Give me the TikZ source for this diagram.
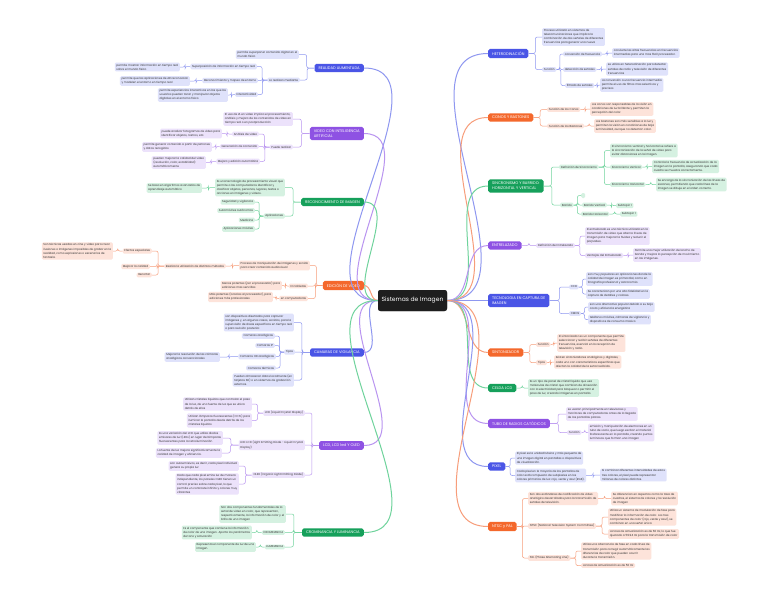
\documentclass[tikz,border=0pt]{standalone}
\usepackage{fontspec}
\setmainfont{Poppins}
\usetikzlibrary{calc}
\definecolor{rootc}{HTML}{1E1E1E}
\definecolor{bluM}{HTML}{4A55E6}
\definecolor{bluL}{HTML}{DFE2FB}
\definecolor{bluE}{HTML}{8E97F0}
\definecolor{purM}{HTML}{8E52E3}
\definecolor{purL}{HTML}{ECE2FB}
\definecolor{purE}{HTML}{B994F0}
\definecolor{grnM}{HTML}{16A05B}
\definecolor{grnL}{HTML}{D5F1E1}
\definecolor{grnE}{HTML}{6FD39C}
\definecolor{orgM}{HTML}{F4682C}
\definecolor{orgL}{HTML}{FDE3DA}
\definecolor{orgE}{HTML}{F79D7A}
\definecolor{txt}{HTML}{333333}
\newcommand\Lc[3]{\draw[#1] let \p1=(#2.west), \p2=(#3.east) in (\p1) -- ({(\x1+\x2)/2},\y1) |- (\p2);}
\newcommand\Rc[3]{\draw[#1] let \p1=(#2.east), \p2=(#3.west) in (\p1) -- ({(\x1+\x2)/2},\y1) |- (\p2);}
\tikzset{
 rootbox/.style={fill=rootc, text=white, rounded corners=2.5pt, font=\fontsize{6}{7}\selectfont, minimum width=69pt, minimum height=21pt, inner sep=2pt},
 mainT/.style={text=white, rounded corners=1.8pt, font=\fontsize{3.8}{5}\selectfont, inner xsep=4pt, inner ysep=2.8pt, align=left},
 mB/.style={mainT, fill=bluM}, mP/.style={mainT, fill=purM}, mG/.style={mainT, fill=grnM}, mO/.style={mainT, fill=orgM},
 subT/.style={rounded corners=1.3pt, font=\fontsize{2.8}{4.1}\selectfont, inner xsep=1.6pt, inner ysep=1.3pt, align=left, text=txt},
 sB/.style={subT, fill=bluL}, sP/.style={subT, fill=purL}, sG/.style={subT, fill=grnL}, sO/.style={subT, fill=orgL},
 eB/.style={draw=bluE, line width=0.5pt, rounded corners=2pt},
 eP/.style={draw=purE, line width=0.5pt, rounded corners=2pt},
 eG/.style={draw=grnE, line width=0.5pt, rounded corners=2pt},
 eO/.style={draw=orgE, line width=0.5pt, rounded corners=2pt},
 cB/.style={draw=bluE, line width=1pt}, cP/.style={draw=purE, line width=1pt},
 cG/.style={draw=grnE, line width=1pt}, cO/.style={draw=orgE, line width=1pt},
 L/.style={anchor=east}, R/.style={anchor=west}
}
\begin{document}
\begin{tikzpicture}[x=1pt,y=-1pt]
\fill[white] (0,0) rectangle (768,597);
\useasboundingbox (0,0) rectangle (768,597);

\node[rootbox] (root) at (412.5,300.5) {Sistemas de Imagen};

% ---------- LEFT ----------
% Realidad aumentada
\node[mB,L] (ra) at (364,68) {REALIDAD AUMENTADA};
\node[sB,L] (ra1) at (299,54.5) {permite superponer contenido digital en el\\mundo físico};
\node[sB,L] (ra2) at (300,80) {Lo realizan mediante};
\node[sB,L] (ra21) at (257,66.5) {Superposición de información en tiempo real};
\node[sB,L] (ra211) at (180,67) {permite mostrar información en tiempo real\\sobre el mundo físico};
\node[sB,L] (ra22) at (258,80.5) {Reconocimiento y mapeo de entorno};
\node[sB,L] (ra221) at (190,81) {permite que las aplicaciones de AR reconozcan\\y modelen el entorno en tiempo real};
\node[sB,L] (ra23) at (258,94.5) {Interactividad};
\node[sB,L] (ra231) at (228,95) {permite experiencias interactivas en las que los\\usuarios pueden tocar y manipular objetos\\digitales en el entorno físico};
\Lc{eB}{ra}{ra1}\Lc{eB}{ra}{ra2}
\Lc{eB}{ra2}{ra21}\Lc{eB}{ra2}{ra22}\Lc{eB}{ra2}{ra23}
\Lc{eB}{ra21}{ra211}\Lc{eB}{ra22}{ra221}\Lc{eB}{ra23}{ra231}

% Video con IA
\node[mP,L] (via) at (364,133.5) {VIDEO CON INTELIGENCIA\\ARTIFICIAL};
\node[sP,L] (via1) at (293,119) {El uso de IA en video implica el procesamiento,\\análisis y mejora de los contenidos de video en\\tiempo real o en postproducción};
\node[sP,L] (via2) at (293,147) {Puede realizar};
\node[sP,L] (via21) at (259,134) {Análisis de video};
\node[sP,L] (via211) at (222,133.5) {puede analizar fotogramas de video para\\identificar objetos, rostros, etc.};
\node[sP,L] (via22) at (259,146.5) {Generación de contenido};
\node[sP,L] (via221) at (212,147) {permite generar contenido a partir de patrones\\y datos recogidos};
\node[sP,L] (via23) at (260,161.5) {Mejora y edición automática};
\node[sP,L] (via231) at (206,162.5) {pueden mejorar la calidad del video\\(resolución, color, estabilidad)\\automáticamente};
\Lc{eP}{via}{via1}\Lc{eP}{via}{via2}
\Lc{eP}{via2}{via21}\Lc{eP}{via2}{via22}\Lc{eP}{via2}{via23}
\Lc{eP}{via21}{via211}\Lc{eP}{via22}{via221}\Lc{eP}{via23}{via231}

% Reconocimiento de imagen
\node[mG,L] (rec) at (364,202) {RECONOCIMIENTO DE IMAGEN};
\node[sG,L] (rec1) at (285,187.5) {Es una tecnología de procesamiento visual que\\permite a las computadoras identificar y\\clasificar objetos, personas, lugares, textos o\\acciones en imágenes y videos.};
\node[sG,L] (rec11) at (202,188) {Se basa en algoritmos avanzados de\\aprendizaje automático};
\node[sG,L] (rec2) at (285,216) {Aplicaciones};
\node[sG,L] (rec21) at (255,202) {Seguridad y vigilancia};
\node[sG,L] (rec22) at (255,210.5) {Automóviles autónomos};
\node[sG,L] (rec23) at (255,220) {Medicina};
\node[sG,L] (rec24) at (255,229) {Aplicaciones móviles};
\Lc{eG}{rec}{rec1}\Lc{eG}{rec}{rec2}\Lc{eG}{rec1}{rec11}
\Lc{eG}{rec2}{rec21}\Lc{eG}{rec2}{rec22}\Lc{eG}{rec2}{rec23}\Lc{eG}{rec2}{rec24}

% Edicion de video
\node[mO,L] (ed) at (364,285.5) {EDICIÓN DE VIDEO};
\node[sO,L] (ed1) at (310,265.5) {Proceso de manipulación de imágenes y sonido\\para crear contenido audiovisual};
\node[sO,L] (ed11) at (226,266) {Realiza la utilización de distintos métodos};
\node[sO,L] (ed111) at (152,251) {Efectos especiales};
\node[sO,L] (ed1111) at (113,251) {Son técnicas usadas en cine y video para crear\\ilusiones o imágenes imposibles de grabar en la\\realidad, como explosiones o escenarios de\\fantasía.};
\node[sO,L] (ed112) at (150,266.5) {Mejorar la calidad};
\node[sO,L] (ed113) at (152,275) {Recortar};
\node[sO,L] (ed2) at (308,286) {En tabletas};
\node[sO,L] (ed21) at (282,285.5) {Menos potentes (por el procesador) para\\ediciones mas sencillas};
\node[sO,L] (ed3) at (308,298.5) {en computadoras};
\node[sO,L] (ed31) at (273,297) {Más potentes (Gracias al procesador), para\\ediciones más profesionales};
\Lc{eO}{ed}{ed1}\Lc{eO}{ed}{ed2}\Lc{eO}{ed}{ed3}
\Lc{eO}{ed1}{ed11}
\Lc{eO}{ed11}{ed111}\Lc{eO}{ed11}{ed112}\Lc{eO}{ed11}{ed113}
\Lc{eO}{ed111}{ed1111}\Lc{eO}{ed2}{ed21}\Lc{eO}{ed3}{ed31}

% Camaras de vigilancia
\node[mB,L] (cam) at (364,352.5) {CAMARAS DE VIGILANCIA};
\node[sB,L] (cam1) at (294,322.5) {son dispositivos diseñados para capturar\\imágenes y, en algunos casos, sonidos, para la\\supervisión de áreas específicas en tiempo real\\o para revisión posterior.};
\node[sB,L] (cam2) at (295,352) {Tipos};
\node[sB,L] (cam21) at (275,336) {Camaras analógicas};
\node[sB,L] (cam22) at (275,345.5) {Camaras IP};
\node[sB,L] (cam23) at (276,356.5) {Camaras HD analógicas};
\node[sB,L] (cam231) at (220,357) {Mejorar la resolución de las cámaras\\analógicas convencionales};
\node[sB,L] (cam24) at (276,368) {Camaras térmicas};
\node[sB,L] (cam3) at (294,380) {Pueden almacenar datos localmente (en\\tarjetas SD) o en sistemas de grabación\\externos.};
\Lc{eB}{cam}{cam1}\Lc{eB}{cam}{cam2}\Lc{eB}{cam}{cam3}
\Lc{eB}{cam2}{cam21}\Lc{eB}{cam2}{cam22}\Lc{eB}{cam2}{cam23}\Lc{eB}{cam2}{cam24}
\Lc{eB}{cam23}{cam231}

% LCD
\node[mP,L] (lcd) at (364,445.5) {LCD, LCD led Y OLED};
\node[sP,L] (lcd1) at (305,413) {LCD (Liquid Crystal Display)};
\node[sP,L] (lcd11) at (252,404) {Utilizan cristales líquidos que controlan el paso\\de la luz, de una fuente de luz que se ubica\\detrás de ellos};
\node[sP,L] (lcd12) at (252,420.5) {Utilizan lámparas fluorescentes (CCFL) para\\iluminar la pantalla desde detrás de los\\cristales líquidos};
\node[sP,L] (lcd2) at (305,445) {LED: LCD (Light Emitting Diode - Liquid Crystal\\Display)};
\node[sP,L] (lcd21) at (223,438) {Es una variación del LCD que utiliza diodos\\emisores de luz (LEDs) en lugar de lámparas\\fluorescentes para la retroiluminación};
\node[sP,L] (lcd22) at (222,453) {La fuente de luz mejora significativamente la\\calidad de imagen y eficiencia.};
\node[sP,L] (lcd3) at (305,475) {OLED (Organic Light Emitting Diode)};
\node[sP,L] (lcd31) at (239,466) {son autoemisivos, es decir, cada pixel individual\\genera su propia luz};
\node[sP,L] (lcd32) at (239,484) {Dado que cada pixel emite luz de manera\\independiente, los paneles OLED tienen un\\control preciso sobre cada pixel, lo que\\permite un contraste infinito y colores muy\\vibrantes};
\Lc{eP}{lcd}{lcd1}\Lc{eP}{lcd}{lcd2}\Lc{eP}{lcd}{lcd3}
\Lc{eP}{lcd1}{lcd11}\Lc{eP}{lcd1}{lcd12}
\Lc{eP}{lcd2}{lcd21}\Lc{eP}{lcd2}{lcd22}
\Lc{eP}{lcd3}{lcd31}\Lc{eP}{lcd3}{lcd32}

% Crominancia
\node[mG,L] (cro) at (364,532.5) {CROMINANCIA Y LUMINANCIA};
\node[sG,L] (cro1) at (286,514) {Son dos componentes fundamentales de la\\señal de video en color, que representan,\\respectivamente, la información de color y el\\brillo de una imagen};
\node[sG,L] (cro2) at (285,532.5) {CROMINANCIA};
\node[sG,L] (cro21) at (252,532.5) {Es el componente que contiene la información\\de color de una imagen. Aporta los parámetros\\de tono y saturación};
\node[sG,L] (cro3) at (285,547) {LUMINANCIA};
\node[sG,L] (cro31) at (256,547) {Representa el componente de luz de una\\imagen.};
\Lc{eG}{cro}{cro1}\Lc{eG}{cro}{cro2}\Lc{eG}{cro}{cro3}
\Lc{eG}{cro2}{cro21}\Lc{eG}{cro3}{cro31}

% ---------- RIGHT ----------
% Heterodinacion
\node[mB,R] (het) at (488,53.5) {HETERODINACIÓN};
\node[sB,R] (het1) at (542,37) {Proceso utilizado en sistemas de\\telecomunicaciones que implica la\\combinación de dos señales de diferentes\\frecuencias para generar una nueva};
\node[sB,R] (het2) at (542,69.5) {Función};
\node[sB,R] (het21) at (563,54) {conversión de frecuencia};
\node[sB,R] (het211) at (612,53) {convierte las altas frecuencias en frecuencias\\intermedias para una mas fácil procesador.};
\node[sB,R] (het22) at (563,69.5) {detección de señales};
\node[sB,R] (het221) at (606,69) {se utiliza en heterodinación para detectar\\señales de radio y televisión de diferentes\\frecuencias};
\node[sB,R] (het23) at (565,85.5) {filtrado de señales};
\node[sB,R] (het231) at (600,85) {La conversión a una frecuencia intermedia\\permite el uso de filtros mas selectivos y\\precisos};
\Rc{eB}{het}{het1}\Rc{eB}{het}{het2}
\Rc{eB}{het2}{het21}\Rc{eB}{het2}{het22}\Rc{eB}{het2}{het23}
\Rc{eB}{het21}{het211}\Rc{eB}{het22}{het221}\Rc{eB}{het23}{het231}

% Conos y bastones
\node[mO,R] (con) at (488,117.5) {CONOS Y BASTONES};
\node[sO,R] (con1) at (547,109.5) {Función de los Conos};
\node[sO,R] (con11) at (590,109) {Los conos son responsables de la visión en\\condiciones de luz brillante y permiten la\\percepción del color.};
\node[sO,R] (con2) at (547,126) {Función de los Bastones};
\node[sO,R] (con21) at (594,126) {Los bastones son más sensibles a la luz y\\permiten la visión en condiciones de baja\\luminosidad, aunque no detectan color.};
\Rc{eO}{con}{con1}\Rc{eO}{con}{con2}\Rc{eO}{con1}{con11}\Rc{eO}{con2}{con21}

% Sincronismo
\node[mG,R] (sin) at (488,186) {SINCRONISMO Y BARRIDO:\\HORIZONTAL Y VERTICAL};
\node[sG,R] (sin1) at (559,167) {Definición de Sincronismo};
\node[sG,R] (sin11) at (610,150.5) {El sincronismo vertical y horizontal se refiere a\\la sincronización de la señal de video para\\evitar distorsiones en la imagen.};
\node[sG,R] (sin12) at (610,167) {Sincronismo Vertical};
\node[sG,R] (sin121) at (652,166.5) {Controla la frecuencia de actualización de la\\imagen en la pantalla, asegurando que cada\\cuadro se muestre correctamente.};
\node[sG,R] (sin13) at (610,184.5) {Sincronismo Horizontal};
\node[sG,R] (sin131) at (656,184.5) {Se encarga de la sincronización de las líneas de\\escaneo, permitiendo que cada línea de la\\imagen se dibuje en el orden correcto.};
\node[sG,R] (sin2) at (560,205) {Barrido};
\node[sG,R,minimum width=4pt,minimum height=5pt,inner sep=0pt] (sin21) at (581,195.5) {};
\node[sG,R] (sin22) at (582,205) {Barrido Vertical};
\node[sG,R] (sin221) at (616,205.5) {Subtopic 1};
\node[sG,R] (sin23) at (581,214) {Barrido Horizontal};
\node[sG,R] (sin231) at (620,214) {Subtopic 1};
\Rc{eG}{sin}{sin1}\Rc{eG}{sin}{sin2}
\Rc{eG}{sin1}{sin11}\Rc{eG}{sin1}{sin12}\Rc{eG}{sin1}{sin13}
\Rc{eG}{sin12}{sin121}\Rc{eG}{sin13}{sin131}
\Rc{eG}{sin2}{sin21}\Rc{eG}{sin2}{sin22}\Rc{eG}{sin2}{sin23}
\Rc{eG}{sin22}{sin221}\Rc{eG}{sin23}{sin231}

% Entrelazado
\node[mP,R] (ent) at (488,245.5) {ENTRELAZADO};
\node[sP,R] (ent1) at (536,245.5) {Definición de Entrelazado};
\node[sP,R] (ent11) at (585,236) {El entrelazado es una técnica utilizada en la\\transmisión de video que alterna líneas de\\imagen para mejorar la fluidez y reducir el\\parpadeo.};
\node[sP,R] (ent12) at (585,255.5) {Ventajas del Entrelazado};
\node[sP,R] (ent121) at (633,255) {Permite una mejor utilización del ancho de\\banda y mejora la percepción de movimiento\\en las imágenes.};
\Rc{eP}{ent}{ent1}\Rc{eP}{ent1}{ent11}\Rc{eP}{ent1}{ent12}\Rc{eP}{ent12}{ent121}

% Tecnologia en captura
\node[mB,R] (tec) at (488,300.5) {TECNOLOGIA EN CAPTURA DE\\IMAGEN};
\node[sB,R] (tec1) at (569,287) {CCD};
\node[sB,R] (tec11) at (586,279) {son muy populares en aplicaciones donde la\\calidad de imagen es primordial, como en\\fotografía profesional y astronomía.};
\node[sB,R] (tec12) at (586,294) {Se caracterizan por una alta fidelidad en la\\captura de detalles y colores.};
\node[sB,R] (tec2) at (569,313.5) {CMOS};
\node[sB,R] (tec21) at (588,307) {son una alternativa popular debido a su bajo\\costo y eficiencia energética};
\node[sB,R] (tec22) at (588,319.5) {teléfonos móviles, cámaras de vigilancia y\\dispositivos de consumo masivo};
\Rc{eB}{tec}{tec1}\Rc{eB}{tec}{tec2}
\Rc{eB}{tec1}{tec11}\Rc{eB}{tec1}{tec12}\Rc{eB}{tec2}{tec21}\Rc{eB}{tec2}{tec22}

% Sintonizador
\node[mO,R] (stz) at (488,352.5) {SINTONIZADOR};
\node[sO,R] (stz1) at (536,344.5) {Función};
\node[sO,R] (stz11) at (557,343) {El sintonizador es un componente que permite\\seleccionar y recibir señales de diferentes\\frecuencias, esencial en la recepción de\\televisión y radio.};
\node[sO,R] (stz2) at (536,362.5) {Tipos};
\node[sO,R] (stz21) at (554,362) {Existen sintonizadores analógicos y digitales,\\cada uno con características específicas que\\afectan la calidad de la señal recibida.};
\Rc{eO}{stz}{stz1}\Rc{eO}{stz}{stz2}\Rc{eO}{stz1}{stz11}\Rc{eO}{stz2}{stz21}

% Celda LCD
\node[mG,R] (cel) at (488,388) {CELDA LCD};
\node[sG,R] (cel1) at (528,388) {Es un tipo de panel de cristal líquido que usa\\moléculas de cristal que cambian de alineación\\con la electricidad para bloquear o permitir el\\paso de luz, creando imágenes en pantalla.};
\Rc{eG}{cel}{cel1}

% Tubo de rayos catodicos
\node[mP,R] (tub) at (488,423.5) {TUBO DE RADIOS CATÓDICOS};
\node[sP,R] (tub1) at (566,414) {se usaron principalmente en televisores y\\monitores de computadoras antes de la llegada\\de las pantallas planas.};
\node[sP,R] (tub2) at (567,432.5) {Función};
\node[sP,R] (tub21) at (588,432.5) {emisión y manipulación de electrones en un\\tubo de vacío, que luego excitan el material\\fosforescente en la pantalla, creando puntos\\luminosos que forman una imagen};
\Rc{eP}{tub}{tub1}\Rc{eP}{tub}{tub2}\Rc{eP}{tub2}{tub21}

% Pixel
\node[mB,R] (pix) at (488,466.5) {PIXEL};
\node[sB,R] (pix1) at (515,458) {El pixel es la unidad básica y más pequeña de\\una imagen digital en pantallas o dispositivos\\de visualización.};
\node[sB,R] (pix2) at (515,475.5) {Cada pixel en la mayoría de las pantallas de\\color está compuesto de subpixeles en los\\colores primarios de luz: rojo, verde y azul (RGB).};
\node[sB,R] (pix21) at (600,475) {Al combinar diferentes intensidades de estos\\tres colores, el pixel puede representar\\millones de colores distintos.};
\Rc{eB}{pix}{pix1}\Rc{eB}{pix}{pix2}\Rc{eB}{pix2}{pix21}

% NTSC y PAL
\node[mO,R] (nts) at (488,526.5) {NTSC y PAL};
\node[sO,R] (nts1) at (528,498.5) {Son dos estándares de codificación de video\\analógico desarrollados para la transmisión de\\señales de televisión.};
\node[sO,R] (nts11) at (611,498.5) {Se diferencian en aspectos como la tasa de\\cuadros, el sistema de colores y la resolución\\de imagen};
\node[sO,R] (nts2) at (528,526) {NTSC (National Television System Committee)};
\node[sO,R] (nts21) at (608,517) {Utiliza un sistema de modulación de fase para\\modificar la información de color. Los tres\\componentes de color (rojo, verde y azul), se\\combinan en una señal única};
\node[sO,R] (nts22) at (608,534) {La tasa de actualización es de 60 Hz, lo que fue\\ajustado a 59.94 Hz para la transmisión de color};
\node[sO,R] (nts3) at (528,558) {PAL (Phase Alternating Line)};
\node[sO,R] (nts31) at (581,551) {Utiliza una alternancia de fase en cada línea de\\transmisión para corregir automáticamente las\\diferencias de color que pueden ocurrir\\durante la transmisión.};
\node[sO,R] (nts32) at (581,565.5) {La tasa de actualización es de 50 Hz};
\Rc{eO}{nts}{nts1}\Rc{eO}{nts}{nts2}\Rc{eO}{nts}{nts3}
\Rc{eO}{nts1}{nts11}\Rc{eO}{nts2}{nts21}\Rc{eO}{nts2}{nts22}
\Rc{eO}{nts3}{nts31}\Rc{eO}{nts3}{nts32}

% ---------- root curves ----------
\foreach \n/\s in {ra/cB, via/cP, rec/cG, ed/cO, cam/cB, lcd/cP, cro/cG}
  \draw[\s] (root.west) to[out=180,in=0] (\n.east);
\foreach \n/\s in {het/cB, con/cO, sin/cG, ent/cP, tec/cB, stz/cO, cel/cG, tub/cP, pix/cB, nts/cO}
  \draw[\s] (root.east) to[out=0,in=180] (\n.west);
\node[rootbox] at (root) {Sistemas de Imagen};
\end{tikzpicture}
\end{document}
